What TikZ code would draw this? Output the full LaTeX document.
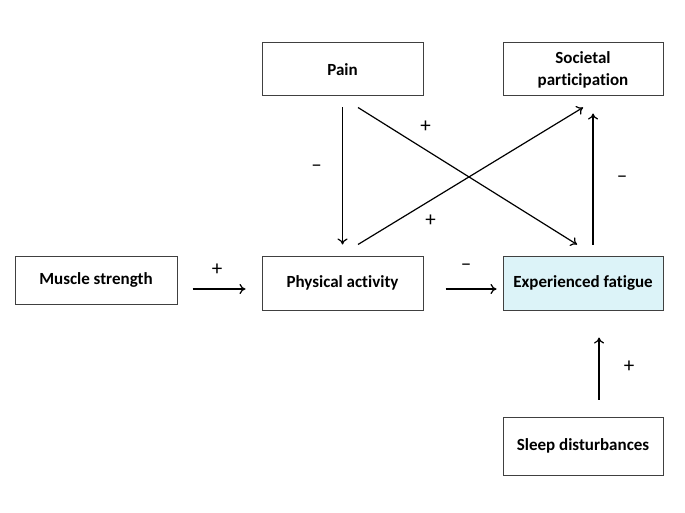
\documentclass[tikz,border=0pt]{standalone}
\usepackage{fontspec}
\setmainfont[Ligatures = NoCommon]{Carlito}
\usepackage{xcolor}
\usetikzlibrary{arrows.meta}

\definecolor{fatfill}{RGB}{220,243,248}

\begin{document}
\begin{tikzpicture}[
  x = 1pt, y = -1pt,
  box/.style = {draw = black!75, line width = 1pt, inner sep = 0pt,
                font = \fontsize{17}{22}\selectfont\bfseries, align = center},
  sign/.style = {font = \fontsize{21}{22}\selectfont, inner sep = 0pt},
  arr/.style = {line width = 1.2pt, -{To[length = 6pt, width = 10pt]}}
  ]
  \useasboundingbox (0,0) rectangle (685,513);

  \node[box, minimum width = 162pt, minimum height = 48pt] (ms)    at (96,280)    {Muscle strength};
  \node[box, minimum width = 161pt, minimum height = 54pt] (pa)    at (342.5,283) {Physical activity};
  \node[box, minimum width = 161pt, minimum height = 53pt] (pain)  at (342.5,69.5) {Pain};
  \node[box, minimum width = 160pt, minimum height = 53pt] (soc)   at (583,69.5)  {Societal\\participation};
  \node[box, minimum width = 160pt, minimum height = 54pt, fill = fatfill] (fat) at (583,283) {Experienced fatigue};
  \node[box, minimum width = 160pt, minimum height = 58pt] (sleep) at (583,446)   {Sleep disturbances};

  \draw[arr] ([xshift = 15pt, yshift = -9pt]ms.east) -- ([xshift = -16pt, yshift = -6pt]pa.west)
    node[sign, midway, xshift = -2pt, yshift = 19pt] {+};
  \draw[arr] ([xshift = 22pt, yshift = -6pt]pa.east) -- ([xshift = -6pt, yshift = -6pt]fat.west)
    node[sign, midway, xshift = -5pt, yshift = 22pt] {–};
  \draw[arr] ([yshift = -11pt]pain.south) -- ([yshift = 11pt]pa.north)
    node[sign, midway, xshift = -26pt, yshift = 8pt] {–};
  \draw[arr] ([xshift = 15.5pt, yshift = -11pt]pain.south) -- ([xshift = -6pt, yshift = 11pt]fat.north)
    node[sign, pos = 0.3, xshift = 2pt, yshift = 22pt] {+};
  \draw[arr] ([xshift = 15.5pt, yshift = 11pt]pa.north) -- ([yshift = -11pt]soc.south)
    node[sign, pos = 0.3, xshift = 5pt, yshift = -17pt] {+};
  \draw[arr] ([xshift = 10pt, yshift = 11pt]fat.north) -- ([xshift = 10pt, yshift = -17pt]soc.south)
    node[sign, midway, xshift = 29pt] {–};
  \draw[arr] ([xshift = 16pt, yshift = 17pt]sleep.north) -- ([xshift = 16pt, yshift = -27pt]fat.south)
    node[sign, midway, xshift = 30pt, yshift = 2pt] {+};
\end{tikzpicture}
\end{document}
